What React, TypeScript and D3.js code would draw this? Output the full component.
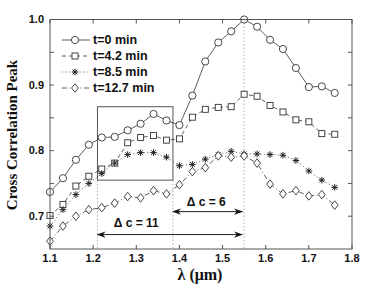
import React, { useEffect, useRef } from "react";
import * as d3 from "d3";

const wavelengths = [1.1, 1.13, 1.16, 1.19, 1.22, 1.25, 1.28, 1.31, 1.34, 1.37, 1.4, 1.43, 1.46, 1.49, 1.52, 1.55, 1.58, 1.61, 1.64, 1.67, 1.7, 1.73, 1.76];
const t0 = [0.737, 0.758, 0.786, 0.809, 0.82, 0.821, 0.831, 0.841, 0.856, 0.846, 0.839, 0.884, 0.936, 0.965, 0.982, 1.0, 0.989, 0.969, 0.955, 0.926, 0.897, 0.898, 0.888];
const t42 = [0.701, 0.718, 0.746, 0.761, 0.772, 0.781, 0.812, 0.82, 0.823, 0.816, 0.818, 0.851, 0.863, 0.866, 0.867, 0.886, 0.883, 0.869, 0.859, 0.847, 0.844, 0.826, 0.825];
const t85 = [0.685, 0.71, 0.733, 0.75, 0.765, 0.781, 0.794, 0.797, 0.797, 0.79, 0.777, 0.779, 0.787, 0.794, 0.799, 0.795, 0.795, 0.794, 0.793, 0.785, 0.769, 0.755, 0.744];
const t127 = [0.662, 0.685, 0.7, 0.71, 0.713, 0.72, 0.73, 0.728, 0.739, 0.734, 0.748, 0.768, 0.774, 0.792, 0.79, 0.792, 0.781, 0.749, 0.734, 0.739, 0.731, 0.733, 0.717];
const seriesLabels = ["t=0 min", "t=4.2 min", "t=8.5 min", "t=12.7 min"];
const xTicks = [1.1, 1.2, 1.3, 1.4, 1.5, 1.6, 1.7, 1.8];
const yTicks = [0.7, 0.8, 0.9, 1.0];
const yMinorTicks = [0.7, 0.75, 0.8, 0.85, 0.9, 0.95, 1.0];
// zoom box and shift annotations (wavelength / correlation units)
const boxX = [1.21, 1.385];
const boxY = [0.755, 0.867];
const peakX = 1.55;
const shifts = [
  { from: 1.385, y: 0.707, label: "\u0394 c = 6", labelX: 1.462, labelY: 0.716 },
  { from: 1.21, y: 0.672, label: "\u0394 c = 11", labelX: 1.3, labelY: 0.683 },
];

const SANS = "'Liberation Sans', Arial, sans-serif";
const SERIF = "'Liberation Serif', 'Times New Roman', serif";
const INK = "#333";

const App: React.FC = () => {
  const svgRef = useRef<SVGSVGElement>(null);

  useEffect(() => {
    if (!svgRef.current) return;
    const width = 390;
    const height = 294;
    const svg = d3.select(svgRef.current).html("");

    const x = d3.scaleLinear().domain([1.1, 1.8]).range([50, 352]);
    const y = d3.scaleLinear().domain([0.65, 1.0]).range([249, 19.5]);
    const [x0, x1] = x.range();
    const [y0, y1] = y.range();

    svg.append("rect").attr("width", width).attr("height", height).attr("fill", "#fff");

    // reference dotted lines
    const guide = svg.append("g").attr("stroke", "#999").attr("stroke-width", 0.8).attr("stroke-dasharray", "1.5,2");
    guide.append("line").attr("x1", x(peakX)).attr("x2", x(peakX)).attr("y1", y1).attr("y2", y0);
    boxX.forEach((bx) => {
      guide.append("line").attr("x1", x(bx)).attr("x2", x(bx)).attr("y1", y(boxY[0])).attr("y2", y0);
    });

    // zoom box
    svg.append("rect")
      .attr("x", x(boxX[0])).attr("y", y(boxY[1]))
      .attr("width", x(boxX[1]) - x(boxX[0])).attr("height", y(boxY[0]) - y(boxY[1]))
      .attr("fill", "none").attr("stroke", "#555").attr("stroke-width", 1);

    // arrows
    const defs = svg.append("defs");
    defs.append("marker").attr("id", "ah").attr("viewBox", "0 0 10 10").attr("refX", 9).attr("refY", 5)
      .attr("markerWidth", 9).attr("markerHeight", 9).attr("markerUnits", "userSpaceOnUse")
      .attr("orient", "auto-start-reverse")
      .append("path").attr("d", "M0,1.5 L10,5 L0,8.5 L3,5 Z").attr("fill", "#111");
    shifts.forEach((s) => {
      svg.append("line")
        .attr("x1", x(s.from)).attr("x2", x(peakX) - 2).attr("y1", y(s.y)).attr("y2", y(s.y))
        .attr("stroke", "#222").attr("stroke-width", 1)
        .attr("marker-start", "url(#ah)").attr("marker-end", "url(#ah)");
      svg.append("text").attr("x", x(s.labelX)).attr("y", y(s.labelY))
        .attr("text-anchor", "middle").attr("font-family", SANS).attr("font-weight", "bold")
        .attr("font-size", 12).attr("fill", "#111").text(s.label);
    });

    const series = [
      { data: t0, dash: null, marker: "circle" },
      { data: t42, dash: "4,3", marker: "square" },
      { data: t85, dash: "1,2.5", marker: "star" },
      { data: t127, dash: "5,2.5,1,2.5", marker: "diamond" },
    ];

    const drawMarker = (g: any, kind: string, cx: number, cy: number) => {
      if (kind === "circle") {
        g.append("circle").attr("cx", cx).attr("cy", cy).attr("r", 3.6)
          .attr("fill", "#fff").attr("stroke", INK).attr("stroke-width", 0.9);
      } else if (kind === "square") {
        g.append("rect").attr("x", cx - 3).attr("y", cy - 3).attr("width", 6).attr("height", 6)
          .attr("fill", "#fff").attr("stroke", INK).attr("stroke-width", 0.9);
      } else if (kind === "diamond") {
        g.append("path").attr("d", `M${cx},${cy - 4.3}L${cx + 3.4},${cy}L${cx},${cy + 4.3}L${cx - 3.4},${cy}Z`)
          .attr("fill", "#fff").attr("stroke", INK).attr("stroke-width", 0.9);
      } else {
        const r = 3.3;
        const d = r * 0.72;
        g.append("path")
          .attr("d", `M${cx - r},${cy}L${cx + r},${cy}M${cx},${cy - r}L${cx},${cy + r}M${cx - d},${cy - d}L${cx + d},${cy + d}M${cx - d},${cy + d}L${cx + d},${cy - d}`)
          .attr("fill", "none").attr("stroke", "#222").attr("stroke-width", 1);
      }
    };

    const line = d3.line<number>().x((_d, i) => x(wavelengths[i])).y((d) => y(d));
    series.forEach((s) => {
      svg.append("path").datum(s.data).attr("d", line)
        .attr("fill", "none").attr("stroke", INK).attr("stroke-width", 0.8)
        .attr("stroke-dasharray", s.dash);
    });
    series.forEach((s) => {
      const g = svg.append("g");
      s.data.forEach((v, i) => drawMarker(g, s.marker, x(wavelengths[i]), y(v)));
    });

    // frame and ticks (inward)
    const frame = svg.append("g").attr("stroke", "#555").attr("stroke-width", 1).attr("fill", "none");
    frame.append("rect").attr("x", x0).attr("y", y1).attr("width", x1 - x0).attr("height", y0 - y1);
    xTicks.forEach((t) => {
      frame.append("line").attr("x1", x(t)).attr("x2", x(t)).attr("y1", y0).attr("y2", y0 - 4);
      frame.append("line").attr("x1", x(t)).attr("x2", x(t)).attr("y1", y1).attr("y2", y1 + 4);
    });
    yMinorTicks.forEach((t) => {
      frame.append("line").attr("x1", x0).attr("x2", x0 + 4).attr("y1", y(t)).attr("y2", y(t));
      frame.append("line").attr("x1", x1).attr("x2", x1 - 4).attr("y1", y(t)).attr("y2", y(t));
    });

    // tick labels
    svg.append("g").selectAll("text").data(xTicks).join("text")
      .attr("x", (d) => x(d)).attr("y", y0 + 13).attr("text-anchor", "middle")
      .attr("font-family", SANS).attr("font-weight", "bold").attr("font-size", 11).attr("fill", "#111")
      .text((d) => d.toFixed(1));
    svg.append("g").selectAll("text").data(yTicks).join("text")
      .attr("x", x0 - 6).attr("y", (d) => y(d)).attr("dy", "0.35em").attr("text-anchor", "end")
      .attr("font-family", SANS).attr("font-weight", "bold").attr("font-size", 11).attr("fill", "#111")
      .text((d) => d.toFixed(1));

    // axis titles
    svg.append("text").attr("x", 200).attr("y", 280).attr("text-anchor", "middle")
      .attr("font-family", SERIF).attr("font-weight", "bold").attr("font-size", 16).attr("fill", "#111")
      .text("\u03bb (\u03bcm)");
    svg.append("text").attr("transform", `translate(17,135) rotate(-90)`).attr("text-anchor", "middle")
      .attr("font-family", SERIF).attr("font-weight", "bold").attr("font-size", 15).attr("fill", "#111")
      .text("Cross Correlation Peak");

    // legend
    const legend = svg.append("g");
    series.forEach((s, i) => {
      const ly = 40 + i * 16;
      legend.append("line").attr("x1", 62).attr("x2", 90).attr("y1", ly).attr("y2", ly)
        .attr("stroke", INK).attr("stroke-width", 0.8).attr("stroke-dasharray", s.dash);
      drawMarker(legend, s.marker, 75, ly);
      legend.append("text").attr("x", 93).attr("y", ly).attr("dy", "0.35em")
        .attr("font-family", SANS).attr("font-weight", "bold").attr("font-size", 12.5).attr("fill", "#111")
        .text(seriesLabels[i]);
    });
  }, []);

  return (
    <svg ref={svgRef} width={390} height={294} style={{ position: "absolute", left: 0, top: 0 }} />
  );
};

export default App;
